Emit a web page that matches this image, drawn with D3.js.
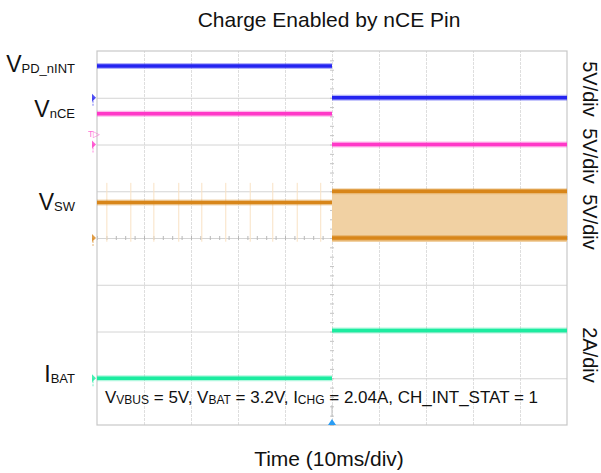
<!DOCTYPE html>
<html>
<head>
<meta charset="utf-8">
<script src="https://cdn.jsdelivr.net/npm/d3@7"></script>
<style>
  body { margin: 0; background: #fff; }
  svg { font-family: "Liberation Sans", Arial, sans-serif; }
</style>
</head>
<body>
<svg id="scope" width="601" height="473"></svg>
<script>
// time axis in ms, 10 ms/div, trigger (nCE falling edge) at t = 0
const timeDomain = [-50, 50];
const edgeTime = 0;

// channels, top to bottom
const labelMain = ["V", "V", "V", "I"];
const labelSub = ["PD_nINT", "nCE", "SW", "BAT"];
const unitsPerDiv = [5, 5, 5, 2];
const offsetDiv = [3, 2, 0, -3];
const levelBefore = [3.4, 3.3, 3.8, 0];
const levelAfter = [0, 0, 5, 2.04];
const swLowAfter = 0;          // VSW swings 0 .. 5V once charging starts
const colors = ["#2424f0", "#ff38c8", "#d8861a", "#1cecA0"];
const scaleText = ["5V/div", "5V/div", "5V/div", "2A/div"];

// faint VSW glitches seen before charge enable (ms)
const spikeTimes = [-47.9, -42.8, -37.9, -32.6, -27.7, -22.6, -17.4, -12.6, -7.4, -2.4];
const spikeRange = [-0.4, 5.9];

const svg = d3.select("#scope");
const plotL = 97, plotR = 567, plotT = 51, plotB = 425;

const x = d3.scaleLinear().domain(timeDomain).range([plotL, plotR]);
const y = d3.scaleLinear().domain([-4, 4]).range([plotB, plotT]);
// physical value of channel i -> screen y
const ch = (i, v) => y(offsetDiv[i] + v / unitsPerDiv[i]);

// grid
svg.append("g")
    .attr("transform", `translate(0,${plotB})`)
    .call(d3.axisBottom(x).tickValues(d3.range(-40, 41, 10)).tickSize(-(plotB - plotT)).tickFormat(""))
    .call(g => g.select(".domain").remove())
    .call(g => g.selectAll("line").attr("stroke", "#dedede").attr("stroke-dasharray", "3,1"));

svg.append("g")
    .attr("transform", `translate(${plotL},0)`)
    .call(d3.axisLeft(y).tickValues(d3.range(-3, 4, 1)).tickSize(-(plotR - plotL)).tickFormat(""))
    .call(g => g.select(".domain").remove())
    .call(g => g.selectAll("line").attr("stroke", "#d4d4d4"));

// minor ticks on centre lines
svg.append("g")
    .attr("transform", `translate(0,${y(0) - 2})`)
    .call(d3.axisBottom(x).tickValues(d3.range(-50, 50.1, 2)).tickSize(4).tickFormat(""))
    .call(g => g.select(".domain").remove())
    .call(g => g.selectAll("line").attr("stroke", "#b8b8b8"));
svg.append("g")
    .attr("transform", `translate(${x(0) - 2},0)`)
    .call(d3.axisRight(y).tickValues(d3.range(-4, 4.01, 0.2)).tickSize(4).tickFormat(""))
    .call(g => g.select(".domain").remove())
    .call(g => g.selectAll("line").attr("stroke", "#c4c4c4"));

svg.append("rect")
    .attr("x", plotL).attr("y", plotT)
    .attr("width", plotR - plotL).attr("height", plotB - plotT)
    .attr("fill", "none").attr("stroke", "#c8c8c8").attr("stroke-width", 1.2);

// VSW spikes before enable
svg.append("g").selectAll("line").data(spikeTimes).join("line")
    .attr("x1", d => x(d)).attr("x2", d => x(d))
    .attr("y1", ch(2, spikeRange[1])).attr("y2", ch(2, spikeRange[0]))
    .attr("stroke", "#f9e2c4").attr("stroke-width", 1);

// VSW switching band after enable
svg.append("rect")
    .attr("x", x(edgeTime)).attr("width", x(timeDomain[1]) - x(edgeTime))
    .attr("y", ch(2, levelAfter[2]) - 2)
    .attr("height", ch(2, swLowAfter) - ch(2, levelAfter[2]) + 6)
    .attr("fill", "#f1d1a3");

const line = d3.line().x(d => x(d[0])).y(d => d[1]);

function trace(pts, color) {
  svg.append("path").attr("d", line(pts)).attr("fill", "none")
      .attr("stroke", color).attr("stroke-opacity", 0.35).attr("stroke-width", 6);
  svg.append("path").attr("d", line(pts)).attr("fill", "none")
      .attr("stroke", color).attr("stroke-width", 3.5);
}

labelMain.forEach((m, i) => {
  trace([[timeDomain[0], ch(i, levelBefore[i])], [edgeTime, ch(i, levelBefore[i])]], colors[i]);
  trace([[edgeTime, ch(i, levelAfter[i])], [timeDomain[1], ch(i, levelAfter[i])]], colors[i]);
});
trace([[edgeTime, ch(2, swLowAfter)], [timeDomain[1], ch(2, swLowAfter)]], colors[2]);

// channel ground markers on the left edge
labelMain.forEach((m, i) => {
  const gy = ch(i, 0);
  svg.append("path")
      .attr("d", `M${plotL - 5},${gy - 4} L${plotL - 1},${gy} L${plotL - 5},${gy + 4} Z`)
      .attr("fill", colors[i]).attr("opacity", 0.8);
  svg.append("line")
      .attr("x1", plotL - 4).attr("x2", plotL - 4).attr("y1", gy).attr("y2", gy + 8)
      .attr("stroke", colors[i]).attr("stroke-dasharray", "2,1").attr("opacity", 0.6);
});
// nCE trigger level marker
svg.append("text").attr("x", plotL - 9).attr("y", ch(1, 1.2) + 4)
    .attr("font-size", 9).attr("fill", colors[1]).attr("opacity", 0.7).text("T▷");

// trigger position marker
svg.append("path")
    .attr("d", `M${x(edgeTime) - 4},${plotB} L${x(edgeTime)},${plotB - 6} L${x(edgeTime) + 4},${plotB} Z`)
    .attr("fill", "#2a9df4");
svg.append("line")
    .attr("x1", x(edgeTime)).attr("x2", x(edgeTime)).attr("y1", plotB - 20).attr("y2", plotB - 8)
    .attr("stroke", "#bbb");

// left labels
const labelBase = [72, 117, 210, 382];
labelMain.forEach((m, i) => {
  const t = svg.append("text")
      .attr("x", 75).attr("y", labelBase[i])
      .attr("text-anchor", "end").attr("font-size", 23).attr("fill", "#111");
  t.append("tspan").text(m);
  t.append("tspan").attr("font-size", 13).attr("dy", 1).text(labelSub[i]);
});

// right scale labels
const scaleCentre = [89, 156, 222, 355];
scaleText.forEach((s, i) => {
  svg.append("text")
      .attr("transform", `translate(583,${scaleCentre[i]}) rotate(90)`)
      .attr("text-anchor", "middle").attr("font-size", 20).attr("fill", "#111")
      .text(s);
});

// title and axis label
svg.append("text").attr("x", 329).attr("y", 27).attr("text-anchor", "middle")
    .attr("font-size", 21).attr("fill", "#111").text("Charge Enabled by nCE Pin");
svg.append("text").attr("x", 329).attr("y", 466).attr("text-anchor", "middle")
    .attr("font-size", 21).attr("fill", "#111").text("Time (10ms/div)");

// test conditions
const cond = [["V", "VBUS", " = 5V, "], ["V", "BAT", " = 3.2V, "], ["I", "CHG", " = 2.04A, CH_INT_STAT = 1"]];
const note = svg.append("text").attr("x", 105).attr("y", 403)
    .attr("font-size", 17).attr("fill", "#111");
cond.forEach(c => {
  note.append("tspan").text(c[0]);
  note.append("tspan").attr("font-size", 12).attr("dy", 1).text(c[1]);
  note.append("tspan").attr("dy", -1).text(c[2]);
});
</script>
</body>
</html>
